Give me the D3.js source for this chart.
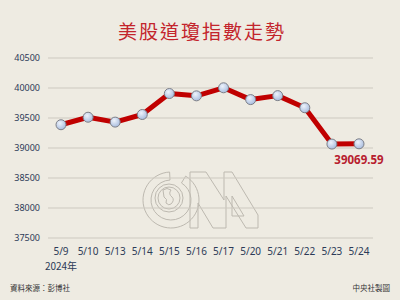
<!DOCTYPE html>
<html>
<head>
<meta charset="utf-8">
<script src="https://cdn.jsdelivr.net/npm/d3@7"></script>
<style>
  body { margin: 0; background: #eeebe2; }
  svg { display: block; }
</style>
</head>
<body>
<div id="chart"></div>
<script>
// Dow Jones closing values, May 2024
const dates = ["5/9", "5/10", "5/13", "5/14", "5/15", "5/16", "5/17", "5/20", "5/21", "5/22", "5/23", "5/24"];
const closes = [39387.76, 39512.84, 39431.51, 39558.11, 39908.00, 39869.38, 40003.59, 39806.77, 39872.99, 39671.04, 39065.26, 39069.59];
const yTicks = [37500, 38000, 38500, 39000, 39500, 40000, 40500];
const title = "美股道瓊指數走勢";
const yearLabel = "2024年";
const sourceText = "資料來源：彭博社";
const creditText = "中央社製圖";
const lastLabel = "39069.59";

const width = 400, height = 300;
const data = dates.map((d, i) => ({ date: d, close: closes[i] }));

const svg = d3.select("#chart").append("svg")
    .attr("width", width)
    .attr("height", height);

svg.append("rect").attr("width", width).attr("height", height).attr("fill", "#eeebe2");

const defs = svg.append("defs");
const grad = defs.append("radialGradient").attr("id", "dot").attr("cx", "40%").attr("cy", "35%").attr("r", "65%");
grad.append("stop").attr("offset", "0%").attr("stop-color", "#eef3fb");
grad.append("stop").attr("offset", "100%").attr("stop-color", "#a9bddf");

const xScale = d3.scalePoint().domain(dates).range([61, 359]);
const yScale = d3.scaleLinear().domain([37500, 40500]).range([238, 58]);

// title
svg.append("text")
    .attr("x", 202).attr("y", 39)
    .attr("text-anchor", "middle")
    .attr("font-family", "'Noto Sans CJK TC', sans-serif")
    .attr("font-size", 19)
    .attr("letter-spacing", 2)
    .attr("fill", "#c3242c")
    .text(title);

// watermark (CNA logo outline)
const wm = svg.append("g").attr("fill", "none").attr("stroke", "#bdb9b0").attr("stroke-width", 1);
wm.append("path").attr("d", d3.arc()({ innerRadius: 20, outerRadius: 28, startAngle: 0.55, endAngle: 2 * Math.PI - 0.05 }))
    .attr("transform", "translate(171,200)");
wm.append("circle").attr("cx", 169).attr("cy", 198).attr("r", 14);
wm.append("circle").attr("cx", 169).attr("cy", 198).attr("r", 11);
wm.append("path").attr("d", "M163,190 q4,-3 8,0 q-3,4 1,7 q3,3 -1,7 q-2,2 -5,-1 q2,-4 -2,-6 z");
wm.append("path").attr("d", "M190,172 L206,172 L224,200 L224,172 L232,172 L258,215 L258,228 L246,228 L226,196 L226,228 L213,228 L198,203 L198,228 L190,228 Z");
wm.append("path").attr("d", "M232,196 L232,216 L244,216 Z");

// grid + y labels
svg.append("g")
    .selectAll("line")
    .data(yTicks)
    .join("line")
    .attr("x1", 48).attr("x2", 373)
    .attr("y1", d => yScale(d)).attr("y2", d => yScale(d))
    .attr("stroke", "#cdc9c0")
    .attr("stroke-width", 1);

svg.append("g")
    .selectAll("text")
    .data(yTicks)
    .join("text")
    .attr("x", 40)
    .attr("y", d => yScale(d) + 3)
    .attr("text-anchor", "end")
    .attr("font-family", "'Noto Sans', sans-serif")
    .attr("font-size", 9)
    .attr("fill", "#2c3a57")
    .text(d => d);

// x labels
svg.append("g")
    .selectAll("text")
    .data(dates)
    .join("text")
    .attr("x", d => xScale(d))
    .attr("y", 255)
    .attr("text-anchor", "middle")
    .attr("font-family", "'Noto Sans', sans-serif")
    .attr("font-size", 10)
    .attr("fill", "#2c3a57")
    .text(d => d);

svg.append("text")
    .attr("x", xScale(dates[0])).attr("y", 270)
    .attr("text-anchor", "middle")
    .attr("font-family", "'Noto Sans CJK TC', sans-serif")
    .attr("font-size", 10)
    .attr("fill", "#2c3a57")
    .text(yearLabel);

// line
const line = d3.line()
    .x(d => xScale(d.date))
    .y(d => yScale(d.close));

svg.append("path")
    .datum(data)
    .attr("fill", "none")
    .attr("stroke", "#c00000")
    .attr("stroke-width", 5)
    .attr("stroke-linejoin", "round")
    .attr("d", line);

svg.append("g")
    .selectAll("circle")
    .data(data)
    .join("circle")
    .attr("cx", d => xScale(d.date))
    .attr("cy", d => yScale(d.close))
    .attr("r", 5)
    .attr("fill", "url(#dot)")
    .attr("stroke", "#7d7f87")
    .attr("stroke-width", 1);

// last value label
const last = data[data.length - 1];
svg.append("text")
    .attr("x", xScale(last.date)).attr("y", yScale(last.close) + 20)
    .attr("text-anchor", "middle")
    .attr("font-family", "'Noto Sans', sans-serif")
    .attr("font-weight", "bold")
    .attr("font-size", 11.5)
    .attr("fill", "#b7202e")
    .text(lastLabel);

// footer
svg.append("text")
    .attr("x", 10).attr("y", 291)
    .attr("font-family", "'Noto Sans CJK TC', sans-serif")
    .attr("font-size", 7.5)
    .attr("fill", "#333")
    .text(sourceText);

svg.append("text")
    .attr("x", 390).attr("y", 291)
    .attr("text-anchor", "end")
    .attr("font-family", "'Noto Sans CJK TC', sans-serif")
    .attr("font-size", 7.5)
    .attr("fill", "#333")
    .text(creditText);
</script>
</body>
</html>
